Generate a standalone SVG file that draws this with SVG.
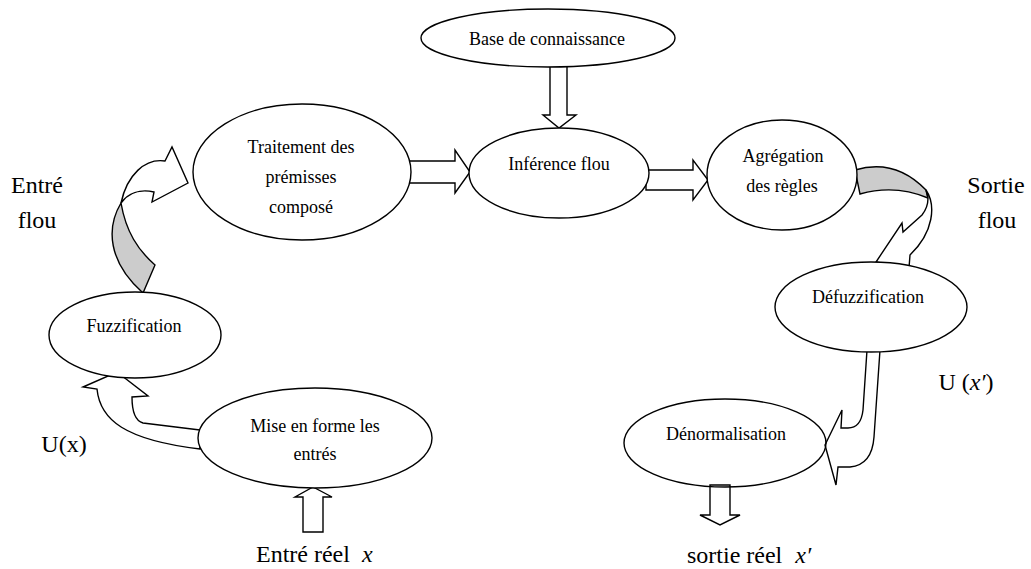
<svg xmlns="http://www.w3.org/2000/svg" width="1031" height="569" viewBox="0 0 1031 569">
<style>
.n{fill:#fff;stroke:#000;stroke-width:1.4}
.a{fill:#fff;stroke:#000;stroke-width:1.4;stroke-linejoin:miter}
.g{fill:#cccccc;stroke:#000;stroke-width:1.4}
.t{font-family:"Liberation Serif","Times New Roman",serif;font-size:18px;fill:#000;text-anchor:middle}
.L{font-family:"Liberation Serif","Times New Roman",serif;font-size:24px;fill:#000;text-anchor:middle}
.S{font-family:"Liberation Serif","Times New Roman",serif;font-size:24px;fill:#000}
</style>
<rect width="1031" height="569" fill="#fff"/>
<g id="connectors">
  <path class="a" d="M550,66 L567,66 L567,115 L576,115 L559,128 L543,115 L550,115 Z"/>
  <path class="a" d="M408,161 L455,161 L455,150 L470,172 L455,193 L455,183 L408,183 Z"/>
  <path class="a" d="M646,170 L693,170 L693,160 L708,180 L693,200 L693,190 L646,190 Z"/>
  <path class="a" d="M303,532 L323,532 L323,497 L332,497 L313,487 L295,497 L303,497 Z"/>
  <path class="a" d="M710,485 L730,485 L730,515 L740,515 L720,525 L700,515 L710,515 Z"/>
  <path class="a" d="M200,430 L143,423 Q132,420 132,397 L148,396 L117,372 L83,387 L97,389 C100,420 125,440 200,449 Z"/>
  <path class="g" d="M121,203 C106,228 108,262 143,293 L155,265 C138,250 126,232 121,203 Z"/>
  <path class="a" d="M121,203 C127,175 145,158 165,161 L172,147 L188,183 L152,202 L154,192 C140,189 128,193 121,203 Z"/>
  <path class="g" d="M855,170 Q895,158 926,190 L928,198 Q895,184 860,194 Z"/>
  <path class="a" d="M926,190 C936,205 934,232 910,255 L909,268 L876,262 L902,223 L903,232 L922,215 C926,210 928,205 928,198 Z"/>
  <path class="a" d="M867,350 L863,410 Q861,428 848,428 L841,428 L842,410 L825,445 L836,485 L838,467 L850,467 Q872,465 874,437 L880,350 Z"/>
</g>
<g id="base">
  <ellipse class="n" cx="548" cy="38" rx="127" ry="29"/>
  <text class="t" x="547" y="45">Base de connaissance</text>
</g>
<g id="traitement">
  <ellipse class="n" cx="302" cy="172" rx="109" ry="68"/>
  <text class="t" x="301" y="153">Traitement des</text>
  <text class="t" x="301" y="183">prémisses</text>
  <text class="t" x="301" y="213">composé</text>
</g>
<g id="inference">
  <ellipse class="n" cx="559" cy="173" rx="90" ry="45"/>
  <text class="t" x="559" y="170">Inférence flou</text>
</g>
<g id="agregation">
  <ellipse class="n" cx="782" cy="175" rx="75" ry="55"/>
  <text class="t" x="783" y="162">Agrégation</text>
  <text class="t" x="782" y="192">des règles</text>
</g>
<g id="defuzzification">
  <ellipse class="n" cx="871" cy="307" rx="96" ry="45"/>
  <text class="t" x="868" y="303">Défuzzification</text>
</g>
<g id="fuzzification">
  <ellipse class="n" cx="135" cy="335" rx="86" ry="43"/>
  <text class="t" x="134" y="332">Fuzzification</text>
</g>
<g id="mise-en-forme">
  <ellipse class="n" cx="315" cy="438" rx="117" ry="50"/>
  <text class="t" x="315" y="432">Mise en forme les</text>
  <text class="t" x="315" y="460">entrés</text>
</g>
<g id="denormalisation">
  <ellipse class="n" cx="725" cy="443" rx="101" ry="44" style="fill:none"/>
  <text class="t" x="726" y="440">Dénormalisation</text>
</g>
<g id="labels">
  <text class="L" x="37" y="193">Entré</text>
  <text class="L" x="37" y="228">flou</text>
  <text class="L" x="996" y="193">Sortie</text>
  <text class="L" x="997" y="228">flou</text>
  <text class="L" x="64" y="452">U(x)</text>
  <text class="L" x="966" y="390">U (<tspan font-style="italic">x′</tspan>)</text>
  <text class="S" x="256" y="562">Entré réel<tspan font-style="italic" dx="12">x</tspan></text>
  <text class="S" x="687" y="563">sortie réel<tspan font-style="italic" dx="13">x′</tspan></text>
</g>
</svg>
